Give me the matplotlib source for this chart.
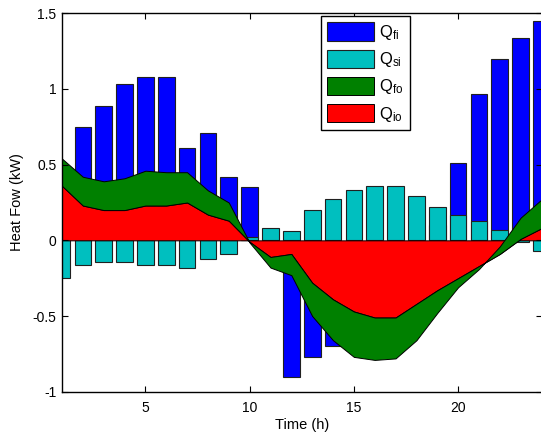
import numpy as np
import matplotlib
matplotlib.use("Agg")
import matplotlib.pyplot as plt

plt.rcParams['font.family'] = ['Liberation Sans', 'DejaVu Sans']
plt.rcParams['mathtext.fontset'] = 'custom'
plt.rcParams['mathtext.rm'] = 'Liberation Sans'

hours = np.arange(1, 25)
q_fi = [0.40, 0.75, 0.89, 1.03, 1.08, 1.08, 0.61, 0.71, 0.42, 0.35, -0.05, -0.90,
        -0.77, -0.70, -0.55, -0.40, -0.25, -0.10, 0.10, 0.51, 0.97, 1.20, 1.34, 1.45]
q_si = [-0.25, -0.16, -0.14, -0.14, -0.16, -0.16, -0.18, -0.12, -0.09, 0.02, 0.08, 0.06,
        0.20, 0.27, 0.33, 0.36, 0.36, 0.29, 0.22, 0.17, 0.13, 0.07, -0.01, -0.07]
q_io = [0.36, 0.23, 0.20, 0.20, 0.23, 0.23, 0.25, 0.17, 0.13, -0.01, -0.11, -0.09,
        -0.28, -0.39, -0.47, -0.51, -0.51, -0.42, -0.33, -0.25, -0.17, -0.09, 0.01, 0.08]
q_fo = [0.18, 0.19, 0.19, 0.21, 0.23, 0.22, 0.20, 0.16, 0.12, -0.005, -0.07, -0.14,
        -0.22, -0.27, -0.30, -0.28, -0.27, -0.24, -0.15, -0.06, -0.02, 0.05, 0.14, 0.19]
labels = [r'$\mathregular{Q_{fi}}$', r'$\mathregular{Q_{si}}$',
          r'$\mathregular{Q_{fo}}$', r'$\mathregular{Q_{io}}$']
xticks = [5, 10, 15, 20]
yticks = [-1, -0.5, 0, 0.5, 1, 1.5]
ytick_labels = ['-1', '-0.5', '0', '0.5', '1', '1.5']

fig = plt.figure(figsize=(5.41, 4.36), dpi=100)
ax = fig.add_axes([62/541, 1 - 391.7/436, (541.5 - 62)/541, (391.7 - 13.3)/436])

b1 = ax.bar(hours, q_fi, width=0.8, color='#0000FF', edgecolor='#202020', linewidth=0.8)
b2 = ax.bar(hours, q_si, width=0.8, color='#00BFBF', edgecolor='#202020', linewidth=0.8)
polys = ax.stackplot(hours, q_io, q_fo, colors=['#FF0000', '#008000'],
                     edgecolor='black', linewidth=0.7)

ax.set_xlim(1, 24)
ax.set_ylim(-1, 1.5)
ax.set_xticks(xticks)
ax.set_xticklabels([str(t) for t in xticks])
ax.set_yticks(yticks)
ax.set_yticklabels(ytick_labels)
ax.tick_params(direction='in', top=True, right=True, length=4.5, width=0.8,
               labelsize=10)
ax.tick_params(axis='x', pad=7)
ax.tick_params(axis='y', pad=4)
for s in ax.spines.values():
    s.set_linewidth(1.0)
ax.set_xlabel('Time (h)', fontsize=10.5, labelpad=2)
ax.set_ylabel('Heat Fow (kW)', fontsize=10.5, labelpad=6)

leg = ax.legend([b1, b2, polys[1], polys[0]], labels, loc='upper left',
                bbox_to_anchor=(0.5395, 0.9937), borderaxespad=0, fancybox=False,
                edgecolor='black', framealpha=1, fontsize=12, handlelength=2.8,
                handleheight=1.3, handletextpad=0.3, labelspacing=0.45,
                borderpad=0.4)
leg.get_frame().set_linewidth(1.0)

fig.savefig('out.png', dpi=100)
